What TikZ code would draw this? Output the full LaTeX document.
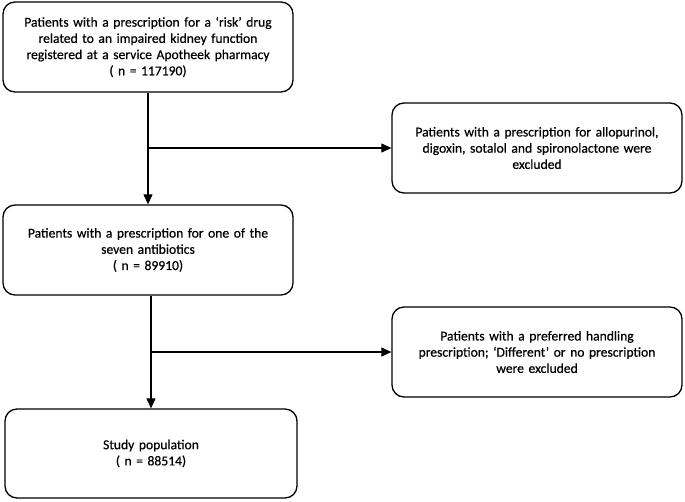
\documentclass[tikz,border=0pt]{standalone}
\usepackage{fontspec}
\setmainfont[FakeBold=0.5]{Carlito}
\usetikzlibrary{arrows.meta}
\begin{document}
\begin{tikzpicture}[x=1pt,y=-1pt,
  flowbox/.style={draw=black,line width=1.3pt,rounded corners=12pt,
    minimum width=290pt,minimum height=90pt,align=center,inner sep=0pt,
    text width=285pt,font=\fontsize{13.6}{16.2}\selectfont},
  conn/.style={line width=1.1pt,-{Triangle[length=10pt,width=9pt]}}]
\useasboundingbox (0,0) rectangle (685,501);
\node[flowbox] (b1) at (148,47) {Patients with a prescription for a ‘risk’ drug\\related to an impaired kidney function\\registered at a service Apotheek pharmacy\\( n = 117190)};
\node[flowbox] (b2) at (537,148) {Patients with a prescription for allopurinol,\\digoxin, sotalol and spironolactone were\\excluded};
\node[flowbox] (b3) at (148,250) {Patients with a prescription for one of the\\seven antibiotics\\( n = 89910)};
\node[flowbox] (b4) at (537,352) {Patients with a preferred handling\\prescription; ‘Different’ or no prescription\\were excluded};
\node[flowbox,minimum width=292pt,minimum height=89pt] (b5) at (151,453.5) {Study population\\( n = 88514)};
\draw[conn] (b1.south) -- (b3.north);
\coordinate (j1) at (b2.west -| b1.south);
\draw[conn] (j1) -- (b2.west);
\draw[conn] (b3.south -| b5.north) -- (b5.north);
\coordinate (j2) at (b4.west -| b5.north);
\draw[conn] (j2) -- (b4.west);
\end{tikzpicture}
\end{document}
